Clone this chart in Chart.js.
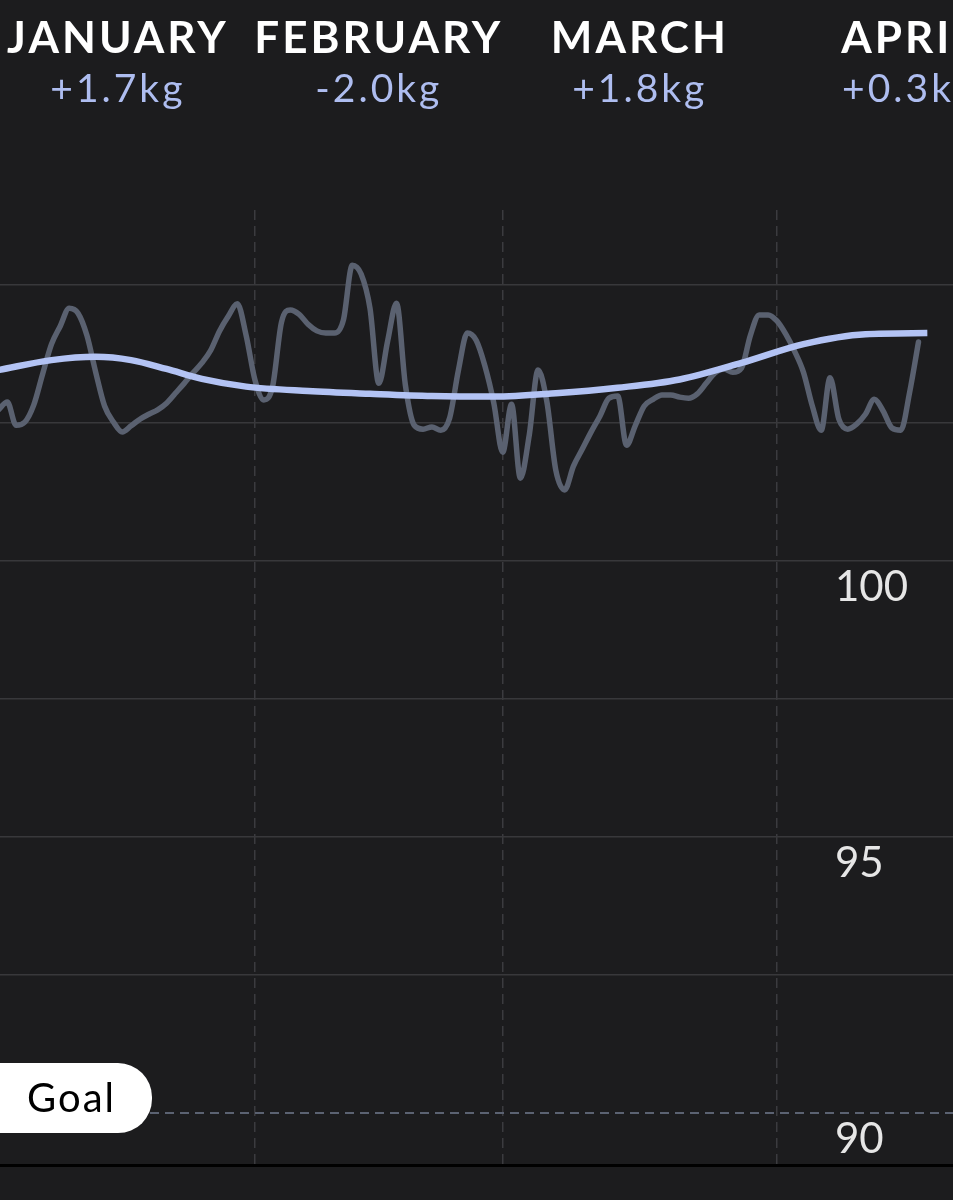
<!DOCTYPE html>
<html>
<head>
<meta charset="utf-8">
<script src="https://cdn.jsdelivr.net/npm/chart.js@4.4.1/dist/chart.umd.min.js"></script>
<style>
  html, body { margin: 0; padding: 0; background: #1c1c1e; overflow: hidden; }
  #weight-chart { display: block; }
</style>
</head>
<body>
<canvas id="weight-chart" width="953" height="1200"></canvas>
<script>
// x is the day of the year, day 0 = 1 January
const months = ['JANUARY', 'FEBRUARY', 'MARCH', 'APRIL']
const monthChanges = [1.7, -2.0, 1.8, 0.3]
const monthStarts = [0, 31, 59, 90, 120]

// daily weigh-ins (kg), first one on day 2
const firstDay = 2
const weights = [
  102.74, 102.88, 102.46, 102.52, 102.83, 103.39, 103.93, 104.26, 104.58, 104.49,
  104.09, 103.42, 102.81, 102.52, 102.34, 102.45, 102.57, 102.66, 102.74, 102.86,
  103.04, 103.22, 103.41, 103.59, 103.82, 104.17, 104.44, 104.66, 104.09, 103.28,
  102.92, 103.17, 104.33, 104.55, 104.47, 104.29, 104.17, 104.13, 104.13, 104.37,
  105.36, 105.20, 104.58, 103.22, 103.99, 104.67, 103.19, 102.46, 102.39, 102.43,
  102.37, 102.59, 103.46, 104.13, 104.00, 103.53, 102.86, 101.97, 102.84, 101.50,
  102.28, 103.46, 102.88, 101.65, 101.29, 101.72, 102.03, 102.34, 102.63, 102.95,
  102.99, 102.10, 102.46, 102.81, 102.93, 103.01, 103.01, 102.97, 102.95, 103.03,
  103.22, 103.41, 103.48, 103.42, 103.50, 104.09, 104.46, 104.46, 104.35, 104.11,
  103.80, 103.42, 102.81, 102.37, 103.32, 102.57, 102.39, 102.48, 102.66, 102.93,
  102.72, 102.41, 102.37, 103.06, 103.97
]

// smoothed trend
const trendDays = [2, 8, 13, 17, 21, 25, 30, 37, 44, 51, 58, 65, 72, 79, 86, 93, 100, 107]
const trendWeights = [
  103.46, 103.64, 103.70, 103.64, 103.48, 103.30, 103.16, 103.08, 103.03,
  102.99, 102.98, 103.04, 103.14, 103.29, 103.59, 103.93, 104.11, 104.13
]

const goalWeight = 90
const yTicks = [90, 92.5, 95, 97.5, 100, 102.5, 105]
const yLabels = [90, 95, 100]
const dayMin = 2.18
const dayMax = 109.9
const yMin = 89.06
const yMax = 106.36

const monthMiddles = months.map((m, i) => (monthStarts[i] + monthStarts[i + 1]) / 2)
const changeLabels = monthChanges.map(c => (c >= 0 ? '+' : '-') + Math.abs(c).toFixed(1) + 'kg')

const goalBadge = {
  id: 'goalBadge',
  beforeDraw(chart) {
    chart.ctx.letterSpacing = '0px'
  },
  afterDatasetsDraw(chart) {
    const { ctx, scales: { y } } = chart
    const lineY = y.getPixelForValue(goalWeight)
    ctx.save()
    ctx.fillStyle = '#ffffff'
    ctx.beginPath()
    ctx.roundRect(-40, lineY - 50, 192, 70, 34)
    ctx.fill()
    ctx.fillStyle = '#000000'
    ctx.font = '40px Lato'
    ctx.letterSpacing = '2px'
    ctx.textBaseline = 'middle'
    ctx.fillText('Goal', 27, lineY - 14)
    ctx.restore()
    // the month header ticks (z: 1) are drawn right after this, spaced out
    ctx.letterSpacing = '3px'
  },
  afterDraw(chart) {
    chart.ctx.letterSpacing = '0px'
  }
}

const topAxis = (weight, height, font, color, padding, labels) => ({
  type: 'linear',
  position: 'top',
  min: dayMin,
  max: dayMax,
  weight: weight,
  grid: { display: false, drawTicks: false },
  border: { display: false },
  afterBuildTicks: s => { s.ticks = monthMiddles.map(value => ({ value })) },
  afterFit: s => { s.height = height; s.paddingLeft = 0; s.paddingRight = 0 },
  ticks: {
    z: 1,
    font, color, padding,
    maxRotation: 0,
    autoSkip: false,
    callback: (v, i) => labels[i]
  }
})

new Chart(document.querySelector('#weight-chart'), {
  type: 'line',
  data: {
    datasets: [{
      label: 'Trend',
      data: trendDays.map((x, i) => ({ x, y: trendWeights[i] })),
      borderColor: '#b3c3f4',
      borderWidth: 6.5,
      cubicInterpolationMode: 'monotone',
      pointRadius: 0,
      order: 0
    }, {
      label: 'Weight',
      data: weights.map((y, i) => ({ x: firstDay + i, y })),
      borderColor: '#5a6170',
      borderWidth: 5.5,
      borderCapStyle: 'round',
      borderJoinStyle: 'round',
      cubicInterpolationMode: 'monotone',
      pointRadius: 0,
      order: 1
    }, {
      label: 'Goal',
      data: [{ x: dayMin, y: goalWeight }, { x: dayMax, y: goalWeight }],
      borderColor: '#5b6272',
      borderWidth: 2,
      borderDash: [9, 6],
      pointRadius: 0,
      order: 2
    }]
  },
  options: {
    responsive: false,
    animation: false,
    layout: { padding: 0 },
    plugins: { legend: { display: false }, tooltip: { enabled: false } },
    scales: {
      months: topAxis(10, 65, { family: 'Lato', size: 44, weight: 'bold' }, '#ffffff', 0, months),
      changes: topAxis(5, 145, { family: 'Lato', size: 39, weight: 400 }, '#aebdf0', 97, changeLabels),
      x: {
        type: 'linear',
        position: 'bottom',
        min: dayMin,
        max: dayMax,
        afterBuildTicks: s => { s.ticks = monthStarts.slice(1, 4).map(value => ({ value })) },
        afterFit: s => { s.height = 35; s.paddingLeft = 0; s.paddingRight = 0 },
        ticks: { display: false },
        grid: { color: '#3b3b3f', lineWidth: 1.5, drawTicks: false },
        border: { display: true, color: '#000000', width: 3, dash: [10, 6] }
      },
      y: {
        type: 'linear',
        position: 'left',
        min: yMin,
        max: yMax,
        afterBuildTicks: s => { s.ticks = yTicks.map(value => ({ value })) },
        afterFit: s => { s.width = 0; s.paddingTop = 0; s.paddingBottom = 0 },
        grid: {
          color: c => c.tick && c.tick.value === goalWeight ? 'rgba(0,0,0,0)' : '#38383b',
          lineWidth: 1.5,
          drawTicks: false
        },
        border: { display: false },
        ticks: {
          mirror: true,
          padding: 835,
          labelOffset: 26,
          color: '#e6e6e6',
          font: { family: 'Lato', size: 42, weight: 400 },
          callback: v => yLabels.includes(v) ? String(v) : ''
        }
      }
    }
  },
  plugins: [goalBadge]
})
</script>
</body>
</html>
